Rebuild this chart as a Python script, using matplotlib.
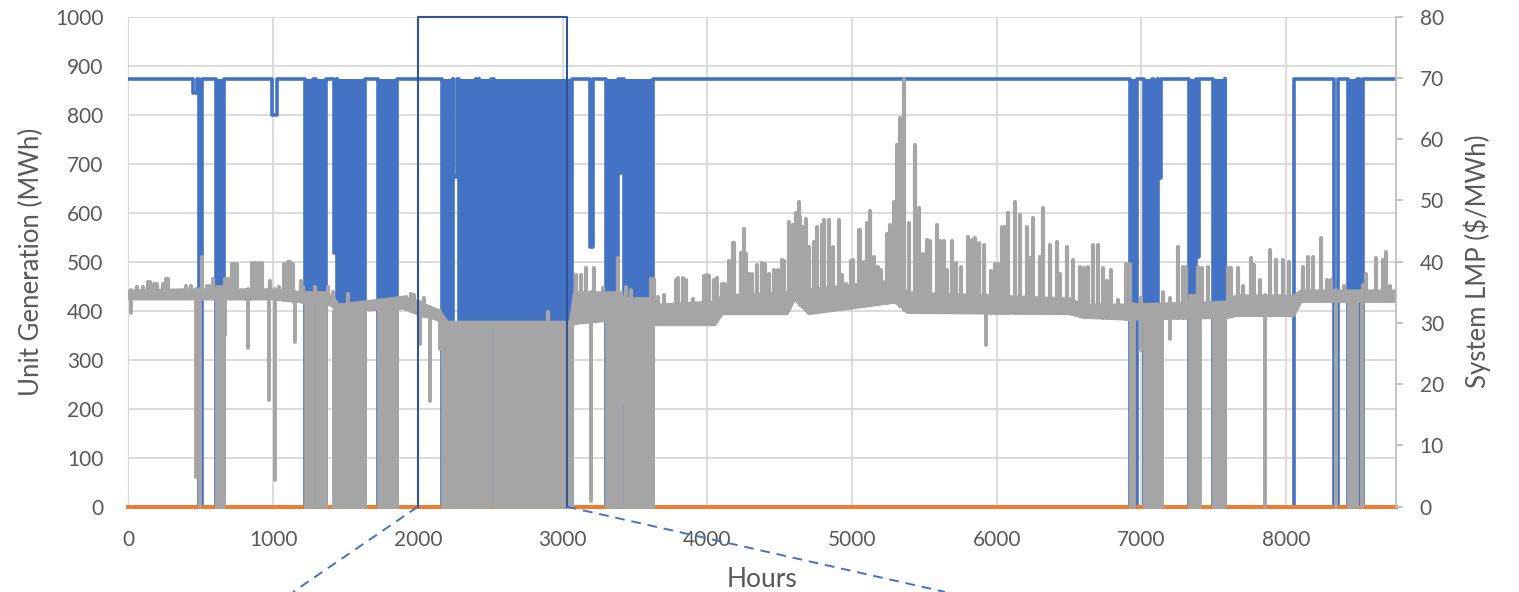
import numpy as np
import matplotlib
matplotlib.use("Agg")
import matplotlib.pyplot as plt

plt.rcParams['font.family'] = ['Lato', 'DejaVu Sans']

# ---- values ----
hours_max = 8760
unit_on = 873          # MWh when the unit runs

# single outages / partial dips of the unit: start hour, end hour, lowest MWh
dip_start = [445, 488, 993, 1419, 2242, 2403, 3189, 3388, 7117, 7382, 7579, 8333, 8510]
dip_end   = [475, 512, 1025, 1441, 2272, 2420, 3212, 3405, 7137, 7401, 8053, 8361, 8534]
dip_min   = [845, 0, 800, 517, 673, 540, 530, 680, 670, 510, 0, 0, 0]

# windows where the unit cycled on/off every day (drawn as solid blue)
cycle_start = [603, 1223, 1294, 1441, 1724, 2166, 2288, 2426, 2529, 3299, 3425,
               6924, 7017, 7088, 7327, 7494, 8425]
cycle_end   = [660, 1276, 1363, 1637, 1858, 2240, 2400, 2506, 3065, 3384, 3626,
               6973, 7074, 7113, 7378, 7579, 8487]

# second unit, flat at zero all year
other_hours = [0, 8760]
other_mwh = [0, 0]

# system LMP: the everyday band
band_hours = [0, 400, 1000, 1400, 1450, 1900, 2000, 2150, 2200, 3050, 3080, 3300,
              3650, 4050, 4100, 4550, 4600, 4700, 5300, 5380, 6500, 6600, 6900,
              7600, 7650, 8050, 8100, 8760]
band_low  = [34.0, 34.0, 34.0, 33.0, 32.0, 32.5, 31.5, 30.5, 29.5, 29.5, 30.0, 30.5,
             29.8, 29.8, 31.6, 31.6, 34.0, 31.6, 33.5, 31.8, 31.6, 31.0, 30.7,
             31.0, 31.3, 31.3, 33.6, 33.6]
band_high = [35.3, 35.5, 35.5, 34.5, 33.0, 34.3, 33.5, 32.0, 30.2, 30.2, 35.0, 35.0,
             33.0, 33.5, 34.5, 35.0, 37.0, 35.5, 37.0, 35.0, 34.0, 33.0, 33.0,
             33.5, 34.5, 34.5, 35.3, 35.3]

# LMP in the cycling windows: falls to ~0 with the unit, top of the block
lmp_cycle_start = [603, 1223, 1294, 1414, 1724, 2166, 2288, 2430, 2529, 3299, 3425,
                   7017, 7088, 7327, 7494, 8425]
lmp_cycle_end   = [660, 1276, 1363, 1637, 1858, 2276, 2426, 2506, 3065, 3407, 3626,
                   7074, 7139, 7403, 7579, 8487]
lmp_cycle_top   = [36.0, 35.0, 35.0, 32.1, 32.4, 30.0, 30.0, 30.0, 30.0, 35.0, 34.0,
                   33.0, 32.0, 34.5, 33.0, 34.0]

# LMP price spikes (hour, $/MWh)
spike_hours = [60, 100, 135, 150, 175, 200, 240, 260, 275, 395, 435, 506, 545, 560, 586,
               670, 688, 715, 730, 750, 855, 875, 900, 925, 980, 1040, 1075, 1100, 1120,
               1138, 1196, 1210, 1290, 1380, 1414, 1517, 1660, 1700, 1880, 1920, 1950,
               1977, 2046, 2897, 3092, 3127, 3161, 3219, 3240, 3280, 3384, 3437, 3470,
               3610, 3632, 3660, 3700, 3782, 3800, 3830, 3851, 3900, 3977, 3995, 4011,
               4046, 4069, 4100, 4120, 4150, 4177, 4184, 4230, 4253, 4270, 4290, 4310,
               4345, 4380, 4402, 4430, 4460, 4490, 4515, 4529, 4563, 4590, 4610, 4632,
               4644, 4660, 4680, 4700, 4735, 4759, 4790, 4805, 4839, 4870, 4908, 4930,
               4960, 4990, 5010, 5046, 5058, 5080, 5103, 5127, 5150, 5180, 5200, 5241,
               5265, 5288, 5310, 5333, 5363, 5392, 5437, 5460, 5490, 5517, 5540, 5586,
               5610, 5633, 5660, 5690, 5720, 5750, 5805, 5830, 5851, 5880, 5910, 5960,
               5989, 6012, 6035, 6058, 6081, 6127, 6161, 6207, 6230, 6253, 6299, 6322,
               6368, 6414, 6440, 6483, 6529, 6575, 6600, 6632, 6667, 6701, 6736, 6760,
               6790, 6840, 6897, 6920, 7000, 7150, 7200, 7253, 7287, 7310, 7391, 7420,
               7460, 7598, 7620, 7667, 7700, 7759, 7780, 7820, 7886, 7931, 7977, 8023,
               8115, 8149, 8184, 8242, 8280, 8310, 8400, 8530, 8552, 8621, 8667, 8690,
               8720]
spike_lmp = [35.9, 35.9, 36.7, 36.7, 36.4, 36.4, 36.4, 37.1, 37.1, 36.1, 36.1, 40.8, 36.1,
             36.1, 37.2, 37.2, 37.2, 39.6, 39.7, 39.6, 39.8, 39.8, 39.8, 39.8, 36.9, 35.9,
             39.6, 40.0, 40.0, 39.6, 36.9, 35.9, 35.9, 35.9, 35.1, 34.8, 33.5, 33.2, 34.0,
             34.3, 34.8, 34.6, 34.0, 31.8, 37.8, 37.8, 38.9, 38.9, 34.3, 35.7, 40.6, 35.8,
             35.3, 37.2, 37.2, 34.3, 34.6, 37.0, 37.3, 37.3, 37.0, 33.9, 37.6, 37.8, 37.6,
             37.0, 37.4, 36.4, 36.4, 40.1, 43.0, 43.0, 41.4, 45.4, 41.2, 38.0, 38.0, 39.5,
             39.8, 39.7, 38.0, 38.6, 38.7, 40.3, 40.1, 46.5, 46.0, 47.9, 49.7, 47.3, 45.7,
             47.0, 42.4, 43.2, 45.7, 46.0, 46.8, 46.8, 42.4, 46.8, 37.8, 36.4, 40.1, 40.3,
             45.1, 45.2, 40.0, 46.3, 48.2, 40.8, 39.2, 38.6, 44.6, 46.0, 49.8, 59.0, 63.4,
             69.9, 46.3, 59.0, 48.7, 41.3, 43.6, 43.3, 46.0, 43.3, 43.4, 38.7, 43.4, 39.8,
             39.2, 44.1, 43.5, 43.8, 43.0, 42.7, 38.4, 39.7, 39.7, 45.7, 45.7, 47.9, 49.8,
             47.6, 45.7, 40.6, 47.1, 40.8, 48.7, 42.7, 43.2, 38.0, 42.4, 40.3, 39.2, 38.9,
             39.2, 42.7, 42.7, 38.9, 36.9, 38.7, 33.7, 39.7, 39.7, 34.0, 35.0, 34.0, 42.4,
             39.2, 39.2, 39.2, 39.0, 39.2, 38.9, 38.9, 38.9, 36.0, 40.6, 39.5, 37.0, 41.9,
             40.3, 40.3, 40.0, 39.2, 40.8, 40.8, 43.8, 37.0, 37.0, 36.0, 36.2, 38.0, 40.6,
             40.3, 41.6, 36.0]

# LMP drops outside the cycling windows (hour, $/MWh)
drop_hours = [15, 465, 494, 667, 828, 975, 1012, 1154, 2012, 2083, 2152, 3195, 3420,
              3625, 5925, 6928, 6950, 7000, 7196, 7855, 8345, 8522]
drop_lmp   = [31.6, 4.9, 0, 28.0, 25.9, 17.4, 4.4, 26.9, 26.5, 17.2, 25.8, 1.0, 17.1,
              25.6, 26.4, 0, 0, 25.6, 27.3, 0, 0, 0]

# zoomed window marked on the chart
zoom_from, zoom_to = 2000, 3030

BLUE = '#4472C4'
ORANGE = '#ED7D31'
GRAY = '#A5A5A5'
TXT = '#595959'
GRID = '#D9D9D9'

fig = plt.figure(figsize=(15.19, 5.92), dpi=100)
ax = fig.add_axes([0.0845, 0.1441, 0.8346, 0.8277])
ax2 = ax.twinx()

# unit generation line (steps down for each outage / cycling window)
events = sorted(list(zip(dip_start, dip_end, dip_min)) +
                [(s, e, 0) for s, e in zip(cycle_start, cycle_end)])
gx, gy = [0], [unit_on]
for s, e, m in events:
    gx += [s, s, e, e]
    gy += [unit_on, m, m, unit_on]
gx.append(hours_max)
gy.append(unit_on)
ax.plot(gx, gy, color=BLUE, lw=2.6, solid_joinstyle='round', zorder=3)
for s, e in zip(cycle_start, cycle_end):
    ax.fill_between([s, e], 0, unit_on, color=BLUE, lw=0, zorder=3)
ax.plot(other_hours, other_mwh, color=ORANGE, lw=2.9, zorder=4, clip_on=False)

# system LMP
ax2.fill_between(band_hours, band_low, band_high, color=GRAY, lw=2.2, edgecolor=GRAY)
for s, e, t in zip(lmp_cycle_start, lmp_cycle_end, lmp_cycle_top):
    ax2.fill_between([s, e], 0, t, color=GRAY, lw=2.0, edgecolor=GRAY, clip_on=False)
base = np.interp(spike_hours, band_hours, band_low)
ax2.vlines(spike_hours, base, spike_lmp, colors=GRAY, lw=3.0, capstyle='round')
top = np.interp(drop_hours, band_hours, band_high)
ax2.vlines(drop_hours, drop_lmp, top, colors=GRAY, lw=2.8, capstyle='round', clip_on=False)

# zoom box and guide lines
ax2.plot([zoom_from, zoom_from, zoom_to, zoom_to], [0, 1000, 1000, 0], color='#2F5597',
         lw=1.5, transform=ax.transData, clip_on=False, zorder=6)
ax2.plot([zoom_from, 1138], [0, -174], color=BLUE, lw=1.4, ls=(0, (5, 3.5)),
         transform=ax.transData, clip_on=False, zorder=6)
ax2.plot([zoom_to, 5643], [0, -174], color=BLUE, lw=1.4, ls=(0, (5, 3.5)),
         transform=ax.transData, clip_on=False, zorder=6)

ax.set_xlim(0, hours_max)
ax.set_ylim(0, 1000)
ax2.set_ylim(0, 80)
ax.set_xticks(range(0, 9000, 1000))
ax.set_yticks(range(0, 1100, 100))
ax2.set_yticks(range(0, 90, 10))
ax.grid(True, color=GRID, lw=1.3)
ax.set_axisbelow(True)

for a in (ax, ax2):
    for sp in a.spines.values():
        sp.set_visible(False)
ax.spines['left'].set_visible(True)
ax.spines['left'].set_color(GRID)
ax2.spines['right'].set_visible(True)
ax2.spines['right'].set_color('#BFBFBF')
ax2.spines['right'].set_linewidth(1.3)

ax.tick_params(axis='y', length=0, pad=18, labelsize=15, labelcolor=TXT)
ax.tick_params(axis='x', length=0, pad=17, labelsize=15, labelcolor=TXT)
ax2.tick_params(axis='y', length=5, width=1.3, color='#BFBFBF', pad=12, labelsize=15,
                labelcolor=TXT)

ax.set_xlabel('Hours', fontsize=19, color=TXT, labelpad=12)
ax.set_ylabel('Unit Generation (MWh)', fontsize=18.5, color=TXT, labelpad=8)
ax2.set_ylabel('System LMP ($/MWh)', fontsize=18.5, color=TXT, labelpad=14)

fig.savefig('out.png', dpi=100)
